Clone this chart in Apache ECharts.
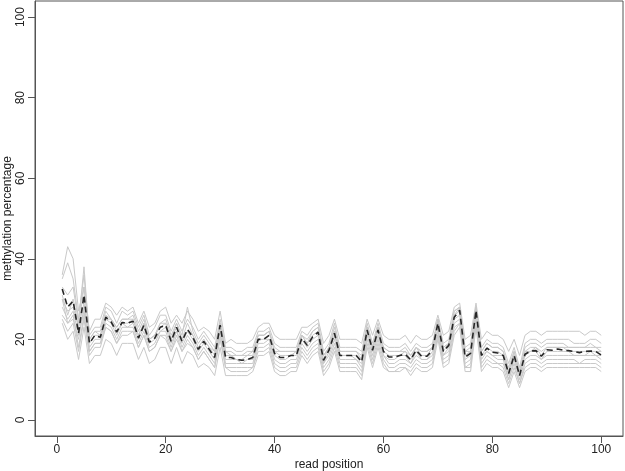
<!DOCTYPE html>
<html>
<head>
<meta charset="utf-8">
<script src="https://cdn.jsdelivr.net/npm/echarts@6/dist/echarts.min.js"></script>
<style>
  html, body { margin: 0; padding: 0; background: #fff; }
  #main { width: 625px; height: 471px; }
</style>
</head>
<body>
<div id="main"></div>
<script>
// read positions 1..100
var readPos = Array.from({ length: 100 }, function (d, i) { return i + 1; });
var tickValues = [0, 20, 40, 60, 80, 100];

// mean methylation (dashed line)
var meanLine = [32.5,28,29.5,21.5,31,19,21,20.5,25.5,24.3, 21.8,24.2,24,24.5,20.3,23.5,19.3,20.3,23,23.5,
  19.5,23,19.5,22.5,20.5,17.5,19.5,17.5,15.5,23.5, 15.5,15.5,15,14.8,15,15.5,20,20,21,16.5,
  15.5,15.5,16,16,20.3,18.5,20.6,21.8,14.8,17.3, 21.5,16,16,16,16,14.4,22.3,17.3,22.3,17,
  15.6,15.6,16,16.3,14.9,17.3,15.8,15.8,17.3,24, 17,18.5,25.5,27.2,15.6,16.5,27.2,16,17.8,16.8,
  16.6,16,11.5,16,11,16.3,17.1,17.2,15.8,17.4, 17.3,17.6,17.3,17.2,17,16.7,17,17.1,17,16.1];

// individual samples (grey lines)
var sample1 = [36,43,40,27,33,22,25,25,29,28, 26,28,27,28,24,27,23,24,27,28, 24,26,24,27,25,22,23,22,20,27,
  19,20,19,19,19,20,23,24,24,21, 20,20,20,20,23,23,24,25,19,21, 25,20,20,20,20,19,25,21,25,21,
  20,20,20,21,19,21,20,20,21,26, 21,22,28,29,20,21,29,20,22,21, 21,20,17,20,16,21,22,22,21,22,
  22,22,22,22,22,22,21,22,22,21];
var sample2 = [35,39,35,25,36,21,23,23,28,27, 24,27,26,27,23,26,21,23,26,26, 22,25,22,25,23,20,22,20,18,25,
  18,18,17,17,18,18,22,22,23,19, 18,18,18,18,22,21,23,24,17,19, 24,18,18,18,18,17,24,19,24,19,
  18,18,18,19,17,19,18,18,19,25, 19,20,27,28,18,19,28,18,20,19, 19,18,14,18,13,19,20,20,19,20,
  20,20,20,20,19,19,19,20,20,19];
var sample3 = [33,31,33,24,38,20,22,22,27,25, 23,25,25,26,22,25,20,21,24,25, 21,24,21,28,22,19,21,19,17,24,
  17,17,16,16,17,17,21,21,22,18, 17,17,17,17,21,20,22,23,16,18, 23,17,17,17,17,16,23,18,23,18,
  17,17,17,18,16,18,17,17,18,25, 18,19,27,28,17,18,28,17,19,18, 18,17,13,17,12,18,19,19,18,19,
  19,19,19,18,18,18,18,19,18,18];
var sample4 = [30,27,28,23,33,20,22,21,26,25, 23,25,25,25,21,24,20,21,24,24, 20,24,20,24,21,18,20,18,17,24,
  17,16,16,16,16,17,21,21,22,17, 17,17,17,17,21,19,22,23,16,18, 22,17,17,17,17,15,23,18,23,18,
  17,17,17,17,16,18,17,17,18,25, 18,19,26,28,17,17,28,17,19,18, 18,17,12,17,12,17,18,18,17,18,
  18,18,18,18,18,18,18,18,18,17];
var sample5 = [31,26,30,23,29,19,21,21,25,25, 22,24,24,25,21,24,20,21,23,24, 20,23,20,22,21,18,20,18,16,24,
  16,16,15,15,16,16,21,21,22,17, 16,16,16,17,21,19,21,22,15,18, 22,16,16,16,16,15,23,18,23,17,
  16,16,16,17,15,18,16,16,18,25, 17,19,26,27,16,17,27,16,18,17, 17,16,12,16,11,17,17,18,16,18,
  18,18,18,17,17,17,17,17,17,17];
var sample6 = [28,25,27,21,27,18,20,20,25,24, 21,24,23,24,20,23,19,20,22,23, 19,22,19,22,20,17,19,17,15,23,
  15,15,15,14,15,15,20,20,20,16, 15,15,16,16,20,18,20,21,14,17, 21,16,16,16,15,14,22,17,22,16,
  15,15,16,16,14,17,15,15,17,23, 16,18,25,26,15,16,26,16,17,16, 16,16,11,16,11,16,17,17,15,17,
  17,17,17,17,16,16,16,17,16,16];
var sample7 = [26,24,26,18,26,17,19,19,24,23, 20,23,23,23,19,22,18,19,22,22, 18,22,18,21,19,16,18,16,14,22,
  14,14,14,14,14,14,19,19,20,15, 14,14,15,15,19,17,19,20,14,16, 20,15,15,15,15,13,21,16,21,16,
  14,14,15,15,14,16,15,15,16,22, 16,17,24,25,14,15,25,15,17,16, 15,15,10,15,10,15,16,16,15,16,
  16,16,16,16,16,16,16,16,16,15];
var sample8 = [25,22,24,17,25,16,18,18,23,22, 19,22,22,22,18,21,17,18,21,21, 17,21,17,20,18,15,17,15,13,21,
  13,13,13,13,13,13,18,18,19,14, 13,13,14,14,18,16,18,19,13,15, 19,14,14,14,14,12,20,15,20,15,
  13,13,14,14,13,15,14,14,15,21, 15,16,23,24,13,14,24,14,16,15, 14,14,10,14,9,14,15,15,14,15,
  15,15,15,15,15,14,15,15,15,14];
var sample9 = [30,24,25,20,28,17,19,19,23,22, 19,21,21,22,18,21,17,18,21,20, 17,20,17,19,18,15,17,15,13,20,
  13,12,12,12,12,13,17,17,18,13, 12,12,13,13,17,15,17,18,12,14, 18,13,13,13,13,11,19,14,19,14,
  12,12,13,13,12,14,13,13,14,21, 14,15,22,24,13,13,24,13,15,14, 14,13,9,13,9,13,14,14,13,14,
  14,14,14,14,14,14,14,14,14,13];
var sample10 = [24,20,22,15,23,14,16,16,20,19, 16,19,19,19,15,18,14,15,18,18, 14,18,14,17,16,13,14,13,11,18,
  11,11,11,11,11,12,16,16,17,12, 11,11,12,12,16,14,16,17,11,13, 17,12,12,12,12,10,18,13,18,13,
  12,12,12,13,11,13,12,12,13,20, 13,14,21,23,12,12,23,12,14,13, 13,12,8,12,8,12,13,13,12,13,
  13,13,13,13,13,13,13,13,13,12];

var samples = [sample1, sample2, sample3, sample4, sample5, sample6, sample7, sample8, sample9, sample10];

function pairs(vals) {
  return vals.map(function (v, i) { return [readPos[i], v]; });
}

var series = samples.map(function (s) {
  return {
    type: 'line',
    data: pairs(s),
    symbol: 'none',
    silent: true,
    lineStyle: { color: '#c9c9c9', width: 1 },
    z: 2
  };
});
series.push({
  type: 'line',
  data: pairs(meanLine),
  symbol: 'none',
  silent: true,
  lineStyle: { color: '#262626', width: 1.6, type: [6, 4] },
  z: 5
});

var font = 'Liberation Sans, Arial, sans-serif';
var chart = echarts.init(document.getElementById('main'));
chart.setOption({
  animation: false,
  backgroundColor: '#fff',
  grid: {
    left: 35, right: 2, top: 1, bottom: 35,
    outerBoundsMode: 'none',
    containLabel: false,
    show: true, borderColor: '#555', borderWidth: 1, backgroundColor: 'transparent'
  },
  xAxis: {
    type: 'value',
    min: -4, max: 104,
    name: 'read position',
    nameLocation: 'middle',
    nameGap: 23,
    nameMoveOverlap: false,
    nameTextStyle: { fontFamily: font, fontSize: 12, color: '#222' },
    axisLine: { show: true, onZero: false, lineStyle: { color: '#555' } },
    axisTick: { show: true, length: 7, lineStyle: { color: '#555' }, customValues: tickValues },
    axisLabel: { fontFamily: font, fontSize: 12, color: '#222', margin: 8, customValues: tickValues },
    splitLine: { show: false }
  },
  yAxis: {
    type: 'value',
    min: -4, max: 104,
    name: 'methylation percentage',
    nameLocation: 'middle',
    nameGap: 21,
    nameMoveOverlap: false,
    nameTextStyle: { fontFamily: font, fontSize: 12, color: '#222' },
    axisLine: { show: true, onZero: false, lineStyle: { color: '#555' } },
    axisTick: { show: true, length: 7, lineStyle: { color: '#555' }, customValues: tickValues },
    axisLabel: { fontFamily: font, fontSize: 12, color: '#222', margin: 8, rotate: 90, customValues: tickValues },
    splitLine: { show: false }
  },
  series: series
});
</script>
</body>
</html>
